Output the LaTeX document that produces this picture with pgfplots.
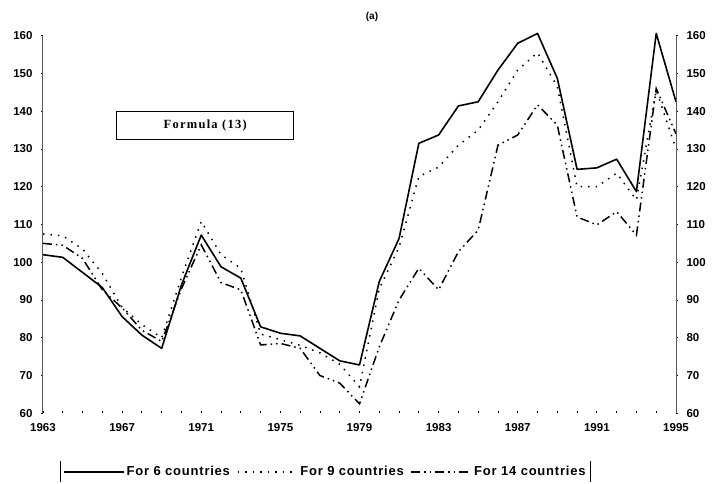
\documentclass[border=0pt]{standalone}
\usepackage{fontspec}
\setmainfont{Liberation Sans}
\newfontfamily\serifbox{Liberation Serif}
\newfontfamily\legfont[LetterSpace=6]{Liberation Sans}
\usepackage{pgfplots}
\pgfplotsset{compat=1.18}
\pgfplotstableread{
year six nine fourteen
1963 102.0 107.5 105.0
1964 101.3 107.0 104.5
1965 97.3 103.5 101.0
1966 93.3 97.0 92.7
1967 85.6 88.0 87.9
1968 80.7 83.5 82.0
1969 77.2 80.0 79.0
1970 94.0 96.0 93.0
1971 107.2 110.8 104.6
1972 98.8 102.0 94.6
1973 95.8 98.4 92.7
1974 82.9 81.0 78.1
1975 81.2 79.5 78.5
1976 80.5 78.0 77.2
1977 77.2 76.0 70.0
1978 73.9 73.0 68.0
1979 72.8 67.0 62.5
1980 94.9 93.0 77.6
1981 106.3 104.0 90.0
1982 131.5 122.7 98.4
1983 133.7 125.2 92.7
1984 141.4 131.0 102.8
1985 142.5 135.0 108.5
1986 150.9 142.5 131.0
1987 158.0 150.9 133.7
1988 160.6 155.5 141.7
1989 148.7 146.5 136.3
1990 124.6 120.0 112.0
1991 125.0 120.0 109.9
1992 127.3 123.6 113.4
1993 118.7 116.5 107.2
1994 160.6 145.6 146.0
1995 142.5 130.0 134.0
}\datatable
\begin{document}
\begin{tikzpicture}
\path[use as bounding box] (-43pt,-70.7pt) rectangle (669pt,413.3pt);
\pgfplotsset{
  common/.style={
    scale only axis, width=633pt, height=377.6pt,
    at={(0pt,0pt)}, anchor=south west,
    xmin=1963, xmax=1995, ymin=60, ymax=160,
    ytick={60,70,...,160},
    tick style={black, line width=0.8pt},
    major tick length=2pt, minor tick length=2pt,
    tick label style={font=\fontsize{11.5}{13}\selectfont\bfseries},
    /pgf/number format/assume math mode=true,
    /pgf/number format/1000 sep={},
    clip=false,
  }
}
\begin{axis}[common,
  separate axis lines,
  x axis line style={draw=none},
  y axis line style={draw=gray!70!black, line width=1pt},
  axis y line*=left,
  axis x line*=bottom,
  xtick={1963,1967,...,1995},
  minor xtick={1963,...,1995},
  xtick align=inside,
  xticklabel style={yshift=-7pt},
  yticklabel style={xshift=-5pt},
  ytick align=outside,
  legend style={name=leg, at={(0.446,-0.155)}, anchor=center, draw=none,
    legend columns=3, font=\legfont\bfseries\fontsize{13}{15}\selectfont,
    /tikz/every even column/.append style={column sep=5pt},
    inner xsep=3pt, inner ysep=3pt},
  legend image code/.code={\draw[#1] (0pt,0pt) -- (60pt,0pt);},
]
\addplot[black, line width=1.6pt, line join=round] table[x=year,y=six] {\datatable};
\addlegendentry{For 6 countries}
\addplot[black, line width=1.5pt, dash pattern=on 1.5pt off 6pt] table[x=year,y=nine] {\datatable};
\addlegendentry{For 9 countries}
\addplot[black, line width=1.5pt, dash pattern=on 9pt off 4pt on 1.5pt off 4pt on 1.5pt off 4pt] table[x=year,y=fourteen] {\datatable};
\addlegendentry{For 14 countries}
\node[draw=black, line width=1.2pt, minimum width=177pt, minimum height=28pt,
  font=\serifbox\bfseries\addfontfeature{LetterSpace=10}\fontsize{12.5}{14}\selectfont]
  at (axis cs:1971.2,136.3) {Formula (13)};
\end{axis}
\begin{axis}[common,
  axis y line*=right,
  y axis line style={draw=gray!70!black, line width=1pt},
  axis x line=none,
  yticklabel style={xshift=5pt},
  ytick align=outside,
]
\addplot[draw=none] coordinates {(1963,60)};
\end{axis}
\draw[line width=0.8pt] (leg.north west) -- (leg.south west);
\draw[line width=0.8pt] (leg.north east) -- (leg.south east);
\node[font=\fontsize{10}{11}\selectfont\bfseries] at (329pt,396.5pt) {(a)};
\end{tikzpicture}
\end{document}
